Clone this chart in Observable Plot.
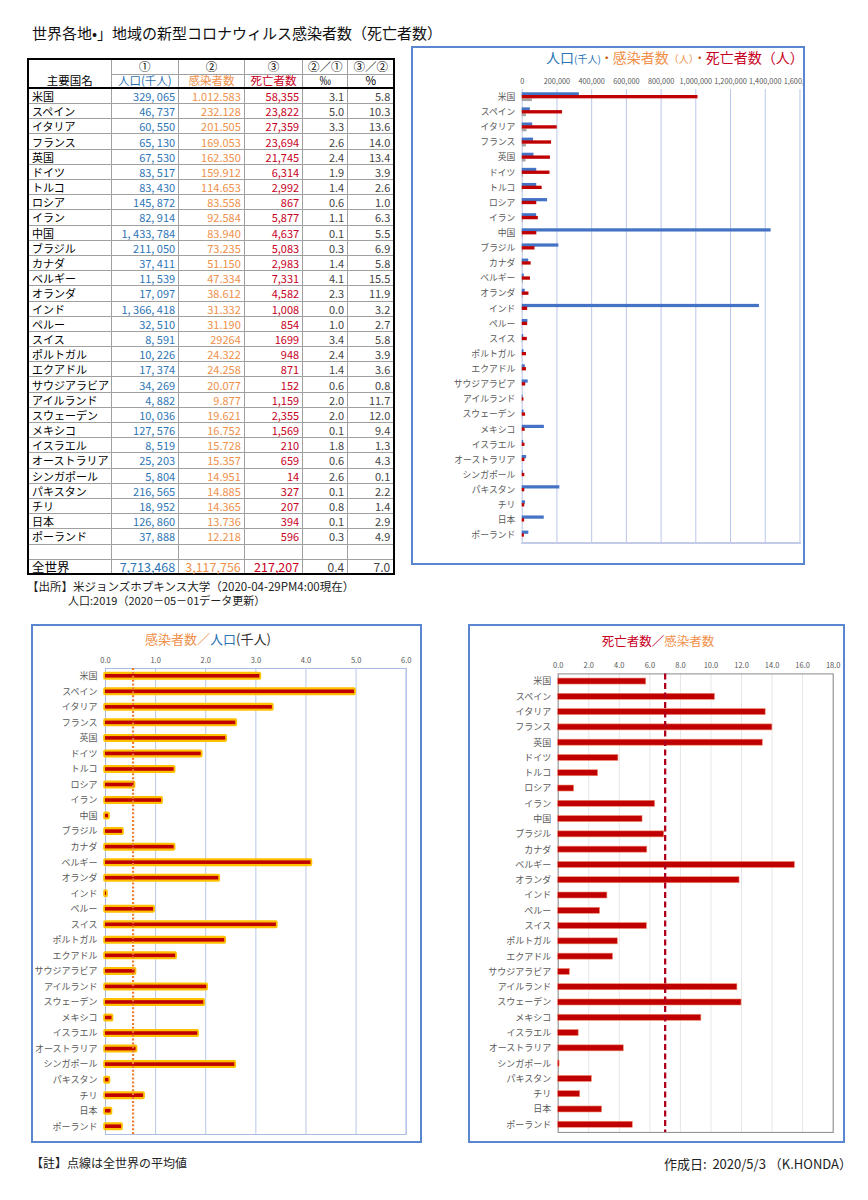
<!DOCTYPE html>
<html><head><meta charset="utf-8">
<script src="https://cdn.jsdelivr.net/npm/d3@7"></script>
<script src="https://cdn.jsdelivr.net/npm/@observablehq/plot@0.6"></script>
<style>
body{margin:0;background:#fff;font-family:"Noto Sans CJK JP","Noto Sans",sans-serif;}
#page{position:relative;width:868px;height:1200px;overflow:hidden;background:#fff;}
.t{position:absolute;white-space:nowrap;}
.frame{position:absolute;box-sizing:border-box;border:2px solid #5a86cf;pointer-events:none;}
#tbl{position:absolute;left:27px;top:58px;border-collapse:collapse;table-layout:fixed;width:366px;border:2px solid #000;}
#tbl td{padding:0 3px;border:1px solid #a0a0a0;white-space:nowrap;overflow:visible;line-height:12px;font-size:11px;}
#tbl tr{height:15.2px;}
#tbl .num{text-align:right;}
#tbl .hd td{text-align:center;font-size:11.5px;line-height:11px;}
#tbl .world td{font-size:12.5px;line-height:12px;}
svg{display:block;}
</style></head><body><div id="page"></div>
<script>
const countries=["米国","スペイン","イタリア","フランス","英国","ドイツ","トルコ","ロシア","イラン","中国","ブラジル","カナダ","ベルギー","オランダ","インド","ペルー","スイス","ポルトガル","エクアドル","サウジアラビア","アイルランド","スウェーデン","メキシコ","イスラエル","オーストラリア","シンガポール","パキスタン","チリ","日本","ポーランド"];
const population=[329065,46737,60550,65130,67530,83517,83430,145872,82914,1433784,211050,37411,11539,17097,1366418,32510,8591,10226,17374,34269,4882,10036,127576,8519,25203,5804,216565,18952,126860,37888];
const infected=[1012583,232128,201505,169053,162350,159912,114653,83558,92584,83940,73235,51150,47334,38612,31332,31190,29264,24322,24258,20077,9877,19621,16752,15728,15357,14951,14885,14365,13736,12218];
const deaths=[58355,23822,27359,23694,21745,6314,2992,867,5877,4637,5083,2983,7331,4582,1008,854,1699,948,871,152,1159,2355,1569,210,659,14,327,207,394,596];
const infPerPop=[3.08,4.97,3.33,2.60,2.40,1.91,1.37,0.57,1.12,0.06,0.34,1.37,4.10,2.26,0.02,0.96,3.41,2.38,1.40,0.59,2.02,1.96,0.13,1.84,0.61,2.58,0.07,0.76,0.11,0.32];
const deathPerInf=[5.76,10.26,13.58,14.02,13.39,3.94,2.61,1.04,6.34,5.52,6.94,5.83,15.49,11.87,3.22,2.74,5.81,3.90,3.59,0.76,11.73,12.00,9.37,1.34,4.29,0.09,2.20,1.44,2.87,4.88];
const worldPopulation=7713468, worldInfected=3117756, worldDeaths=217207, worldInfRate=0.4, worldDeathRate=7.0;
const infAvgLine=0.55, deathAvgLine=7.0;
const ticksTop=[0,200000,400000,600000,800000,1000000,1200000,1400000,1600000];
const ticksInf=[0,1,2,3,4,5,6];
const ticksDeath=[0,2,4,6,8,10,12,14,16,18];
const plainCells=["スイス"];

const rows=countries.map((c,i)=>({country:c,population:population[i],infected:infected[i],deaths:deaths[i],infRate:infPerPop[i],deathRate:deathPerInf[i]}));
const page=document.getElementById("page");
const FONT='"Noto Sans CJK JP","Noto Sans",sans-serif';
function txt(html,left,cy,size,extra="",lh=1.2){const d=document.createElement("div");d.className="t";d.style.cssText=`left:${left}px;top:${cy-size*lh/2}px;font-size:${size}px;line-height:${size*lh}px;${extra}`;d.innerHTML=html;page.appendChild(d);return d;}
const BLUE="#2e75b6", ORANGE="#f0904a", RED="#c8001e";

// title
txt("世界各地•」地域の新型コロナウィルス感染者数（死亡者数）",32,33,15,"color:#111;");

// table
const fmtC=d3.format(",");
const tbl=document.createElement("table");tbl.id="tbl";
const cw=[83,67.7,65.6,58.4,45,46.6];
let h='<colgroup>'+cw.map(w=>`<col style="width:${w}px">`).join("")+'</colgroup>';
h+=`<tr class="hd" style="height:15px"><td rowspan="2" style="vertical-align:bottom;padding-bottom:1px;border-bottom:2px solid #000">主要国名</td><td>①</td><td>②</td><td>③</td><td>②／①</td><td>③／②</td></tr>`;
h+=`<tr class="hd" style="height:14.4px"><td style="color:${BLUE};border-bottom:2px solid #000">人口(千人)</td><td style="color:${ORANGE};border-bottom:2px solid #000">感染者数</td><td style="color:${RED};border-bottom:2px solid #000">死亡者数</td><td style="border-bottom:2px solid #000">‰</td><td style="border-bottom:2px solid #000">%</td></tr>`;
rows.forEach(r=>{
  const plain=plainCells.includes(r.country);
  const p=fmtC(r.population).replace(/,/g,", ");
  const inf=plain?String(r.infected):fmtC(r.infected).replace(/,/g,".");
  const de=plain?String(r.deaths):fmtC(r.deaths);
  h+=`<tr><td>${r.country}</td><td class="num" style="color:${BLUE}">${p}</td><td class="num" style="color:${ORANGE}">${inf}</td><td class="num" style="color:${RED}">${de}</td><td class="num" style="color:#444">${r.infRate.toFixed(1)}</td><td class="num" style="color:#444">${r.deathRate.toFixed(1)}</td></tr>`;
});
h+=`<tr><td></td><td></td><td></td><td></td><td></td><td></td></tr>`;
h+=`<tr class="world"><td>全世界</td><td class="num" style="color:${BLUE}">${fmtC(worldPopulation)}</td><td class="num" style="color:${ORANGE}">${fmtC(worldInfected)}</td><td class="num" style="color:${RED}">${fmtC(worldDeaths)}</td><td class="num" style="color:#444;font-size:12px">${worldInfRate.toFixed(1)}</td><td class="num" style="color:#444;font-size:12px">${worldDeathRate.toFixed(1)}</td></tr>`;
tbl.innerHTML=h;page.appendChild(tbl);

txt("【出所】米ジョンズホプキンス大学（2020-04-29PM4:00現在）",27,586.5,11.5,"color:#222;",1.0);
txt("人口:2019（2020－05－01データ更新）",68,600,11,"color:#222;",1.0);

// ---------- top-right chart ----------
function place(el,left,top,parent=page){const w=document.createElement("div");w.style.cssText=`position:absolute;left:${left}px;top:${top}px;`;w.appendChild(el);parent.appendChild(w);return w;}
const clip=document.createElement("div");clip.style.cssText="position:absolute;left:411px;top:46px;width:392px;height:519px;overflow:hidden;";page.appendChild(clip);
{
  const W=400,H=519,mt=44,mb=12.3;
  const B=(H-mt-mb)/countries.length, hb=B/2;
  const p=Plot.plot({
    width:W,height:H,marginLeft:113,marginRight:3.6,marginTop:mt,marginBottom:mb,
    style:{fontFamily:FONT,color:"#595959",background:"transparent",overflow:"visible"},
    x:{domain:[0,1600000],axis:null},
    y:{domain:countries,padding:0,round:false,axis:null},
    marks:[
      Plot.gridX(ticksTop,{stroke:"#b8c5e8",strokeOpacity:1}),
      Plot.frame({anchor:"bottom",stroke:"#c3cbe6",strokeWidth:2}),
      Plot.axisX(ticksTop,{anchor:"top",tickSize:0,tickPadding:6,fontSize:7.5,tickFormat:d3.format(","),label:null}),
      Plot.axisY({tickSize:0,tickPadding:7,fontSize:9,label:null}),
      Plot.barX(rows,{y:"country",x:"population",fill:"#4472c4",insetTop:hb-4.5,insetBottom:hb+1.2}),
      Plot.barX(rows,{y:"country",x:"deaths",fill:"#a5a5a5",insetTop:hb+1.7,insetBottom:hb-4.5}),
      Plot.barX(rows,{y:"country",x:"infected",fill:"#c00000",insetTop:hb-1.7,insetBottom:hb-1.7})
    ]
  });
  p.style.position="absolute";p.style.left="0px";p.style.top="0px";
  clip.appendChild(p);
}
const f1=document.createElement("div");f1.className="frame";f1.style.cssText+="left:411px;top:46px;width:394px;height:519px;";page.appendChild(f1);
txt(`<span style="color:${BLUE};font-size:14px">人口</span><span style="color:${BLUE};font-size:10px">(千人)</span><span style="color:#c55a11;font-size:12px">・</span><span style="color:${ORANGE};font-size:14px">感染者数</span><span style="color:${ORANGE};font-size:10px">（人）</span><span style="color:#c55a11;font-size:12px">・</span><span style="color:${RED};font-size:14px">死亡者数（人）</span>`,546,57.7,14);

// ---------- bottom-left chart ----------
{
  const W=391,H=519,mt=44,mb=9;
  const B=(H-mt-mb)/countries.length;
  const p=Plot.plot({
    width:W,height:H,marginLeft:74,marginRight:16.3,marginTop:mt,marginBottom:mb,
    style:{fontFamily:FONT,color:"#595959",background:"transparent",overflow:"visible"},
    x:{domain:[0,6],axis:null},
    y:{domain:countries,padding:0,round:false,axis:null},
    marks:[
      Plot.gridX(ticksInf,{stroke:"#b8c7e8",strokeOpacity:1}),
      Plot.frame({stroke:"#a9bde4"}),
      Plot.axisX(ticksInf,{anchor:"top",tickSize:0,tickPadding:6,fontSize:7.5,tickFormat:d=>d.toFixed(1),label:null}),
      Plot.axisY({tickSize:0,tickPadding:8,fontSize:9,label:null}),
      Plot.barX(rows,{y:"country",x:"infRate",fill:"#ffc000",stroke:"#ffc000",strokeWidth:3.6,strokeLinejoin:"round",insetTop:(B-4.4)/2,insetBottom:(B-4.4)/2}),
      Plot.barX(rows,{y:"country",x:"infRate",fill:"#c00000",insetTop:(B-3.6)/2,insetBottom:(B-3.6)/2}),
      Plot.ruleX([infAvgLine],{stroke:"#ed7d31",strokeWidth:2.2,strokeDasharray:"2,1.9"})
    ]
  });
  place(p,31,624);
}
const f2=document.createElement("div");f2.className="frame";f2.style.cssText+="left:31px;top:624px;width:391px;height:519px;";page.appendChild(f2);
txt(`<span style="color:${ORANGE}">感染者数／</span><span style="color:${BLUE}">人口</span><span style="color:#333">(千人)</span>`,145,638.3,13);

// ---------- bottom-right chart ----------
{
  const W=377,H=519,mt=49.4,mb=11.1;
  const B=(H-mt-mb)/countries.length;
  const p=Plot.plot({
    width:W,height:H,marginLeft:89.7,marginRight:12.3,marginTop:mt,marginBottom:mb,
    style:{fontFamily:FONT,color:"#595959",background:"transparent",overflow:"visible"},
    x:{domain:[0,18],axis:null},
    y:{domain:countries,padding:0,round:false,axis:null},
    marks:[
      Plot.gridX(ticksDeath,{stroke:"#e6e6e6",strokeOpacity:1}),
      Plot.frame({stroke:"#8a8a8a"}),
      Plot.axisX(ticksDeath,{anchor:"top",tickSize:0,tickPadding:6,fontSize:7.5,tickFormat:d=>d.toFixed(1),label:null}),
      Plot.axisY({tickSize:0,tickPadding:7,fontSize:9,label:null}),
      Plot.barX(rows,{y:"country",x:"deathRate",fill:"#c00000",stroke:"#f08a6a",strokeWidth:0.6,insetTop:(B-6)/2,insetBottom:(B-6)/2}),
      Plot.ruleX([deathAvgLine],{stroke:"#b0001e",strokeWidth:2.3,strokeDasharray:"6,3.5"})
    ]
  });
  place(p,468,624);
}
const f3=document.createElement("div");f3.className="frame";f3.style.cssText+="left:468px;top:624px;width:377px;height:519px;";page.appendChild(f3);
txt(`<span style="color:${RED}">死亡者数／</span><span style="color:${ORANGE}">感染者数</span>`,601.7,640,12.5);

// footer
txt("【註】点線は全世界の平均値",31,1163,12,"color:#222;");
const fr=txt("作成日:&nbsp; 2020/5/3 （K.HONDA）",0,1164,13,"color:#222;");
fr.style.left="";fr.style.right="16px";
</script></body></html>
